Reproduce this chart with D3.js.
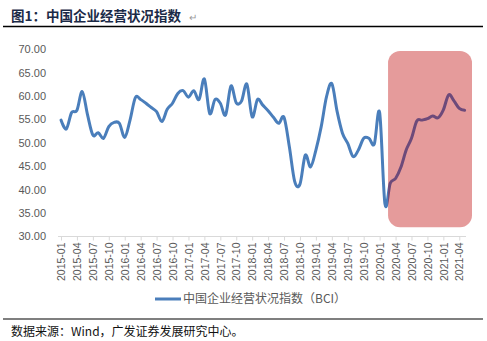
<!DOCTYPE html>
<html><head><meta charset="utf-8">
<script src="https://cdn.jsdelivr.net/npm/d3@7"></script>
<style>
html,body{margin:0;padding:0;background:#fff;}
svg{display:block;}
</style></head>
<body>
<svg id="chart" width="487" height="341"></svg>
<script>
const months = [
"2015-01","2015-02","2015-03","2015-04","2015-05","2015-06","2015-07","2015-08","2015-09","2015-10","2015-11","2015-12",
"2016-01","2016-02","2016-03","2016-04","2016-05","2016-06","2016-07","2016-08","2016-09","2016-10","2016-11","2016-12",
"2017-01","2017-02","2017-03","2017-04","2017-05","2017-06","2017-07","2017-08","2017-09","2017-10","2017-11","2017-12",
"2018-01","2018-02","2018-03","2018-04","2018-05","2018-06","2018-07","2018-08","2018-09","2018-10","2018-11","2018-12",
"2019-01","2019-02","2019-03","2019-04","2019-05","2019-06","2019-07","2019-08","2019-09","2019-10","2019-11","2019-12",
"2020-01","2020-02","2020-03","2020-04","2020-05","2020-06","2020-07","2020-08","2020-09","2020-10","2020-11","2020-12",
"2021-01","2021-02","2021-03","2021-04","2021-05"];
const bci = [
54.9,53.0,56.5,57.0,61.0,56.0,51.7,52.2,51.0,53.5,54.4,54.2,
51.2,54.9,59.7,59.3,58.5,57.6,56.7,54.6,57.2,58.5,60.6,61.2,
59.8,61.2,59.3,63.7,56.3,59.3,58.5,56.0,62.2,58.6,59.0,62.6,
55.6,59.3,58.1,56.9,55.5,54.2,55.5,49.2,41.8,41.2,47.4,44.9,
48.5,53.5,59.9,62.7,56.7,52.1,49.9,47.1,48.5,51.0,51.0,49.8,
56.5,37.0,41.4,42.4,44.8,48.5,51.0,54.7,54.9,55.2,55.8,55.4,
57.1,60.3,59.0,57.4,57.0];
const xTickLabels = ["2015-01","2015-04","2015-07","2015-10","2016-01","2016-04","2016-07","2016-10",
"2017-01","2017-04","2017-07","2017-10","2018-01","2018-04","2018-07","2018-10",
"2019-01","2019-04","2019-07","2019-10","2020-01","2020-04","2020-07","2020-10","2021-01","2021-04"];
const yTicks = [30,35,40,45,50,55,60,65,70];
const highlightMonths = ["2020-03","2021-05"];
const highlightValues = [32.0,69.7];
const seriesName = "中国企业经营状况指数（BCI）";
const titleText = "图1：中国企业经营状况指数";
const sourceText = "数据来源：Wind，广发证券发展研究中心。";

const svg = d3.select("#chart");
const FONT = "'Liberation Sans', Arial, 'Noto Sans CJK SC', sans-serif";
const CJK = "'Noto Sans CJK SC', 'Liberation Sans', sans-serif";

const x = d3.scalePoint().domain(months).range([61, 464.6]);
const y = d3.scaleLinear().domain([30,70]).range([236.5, 49.5]);

// title
svg.append("text").attr("x",11).attr("y",21).attr("font-family",CJK).attr("font-weight","bold")
  .attr("font-size",13.5).attr("fill","#1b2a47").text(titleText);
svg.append("text").attr("x",189).attr("y",21).attr("font-family",FONT).attr("font-size",10)
  .attr("fill","#9a9a9a").text("↵");
svg.append("line").attr("x1",3).attr("x2",483).attr("y1",26.5).attr("y2",26.5)
  .attr("stroke","#000").attr("stroke-width",1.5);

// y labels
svg.append("g").selectAll("text").data(yTicks).join("text")
  .attr("x",46).attr("y",d=>y(d)).attr("dy","0.35em").attr("text-anchor","end")
  .attr("font-family",FONT).attr("font-size",11).attr("fill","#595959")
  .text(d=>d.toFixed(2));

// x axis
svg.append("line").attr("x1",58).attr("x2",466).attr("y1",y(30)).attr("y2",y(30))
  .attr("stroke","#d9d9d9").attr("stroke-width",1);
const xg = svg.append("g").attr("transform",`translate(0,${y(30)})`)
  .call(d3.axisBottom(x).tickValues(xTickLabels).tickSize(4).tickSizeOuter(0));
xg.select(".domain").remove();
xg.selectAll(".tick line").attr("stroke","#d9d9d9");
xg.selectAll(".tick text")
  .attr("font-family",FONT).attr("font-size",10.5).attr("fill","#595959")
  .attr("text-anchor","end").attr("transform","rotate(-90)")
  .attr("x",-6).attr("y",0).attr("dy","0.35em");

// line
const line = d3.line().x((d,i)=>x(months[i])).y(d=>y(d)).curve(d3.curveCardinal.tension(0));
svg.append("path").datum(bci).attr("d",line).attr("fill","none")
  .attr("stroke","#4a7ebb").attr("stroke-width",3).attr("stroke-linejoin","round").attr("stroke-linecap","round");

// highlight
const hx0 = x(highlightMonths[0]) - 2.2, hx1 = x(highlightMonths[1]) + 7.4;
const hy0 = y(highlightValues[1]), hy1 = y(highlightValues[0]);
svg.append("rect").attr("x",hx0).attr("y",hy0).attr("width",hx1-hx0).attr("height",hy1-hy0)
  .attr("rx",12).attr("ry",12).attr("fill","#e59b9b");
svg.append("clipPath").attr("id","hc").append("rect")
  .attr("x",hx0).attr("y",hy0).attr("width",hx1-hx0).attr("height",hy1-hy0).attr("rx",12);
svg.append("path").datum(bci).attr("d",line).attr("fill","none").attr("clip-path","url(#hc)")
  .attr("stroke","#6d4a7a").attr("stroke-width",3).attr("stroke-linejoin","round").attr("stroke-linecap","round");

// legend
svg.append("line").attr("x1",155).attr("x2",181).attr("y1",299).attr("y2",299)
  .attr("stroke","#4a7ebb").attr("stroke-width",3);
svg.append("text").attr("x",183).attr("y",299).attr("dy","0.35em").attr("font-family",CJK)
  .attr("font-size",12).attr("fill","#595959").text(seriesName);

// footer
svg.append("line").attr("x1",3).attr("x2",483).attr("y1",319).attr("y2",319)
  .attr("stroke","#000").attr("stroke-width",1.2);
svg.append("text").attr("x",11).attr("y",336).attr("font-family",CJK)
  .attr("font-size",12).attr("fill","#111").text(sourceText);
</script>
</body></html>
